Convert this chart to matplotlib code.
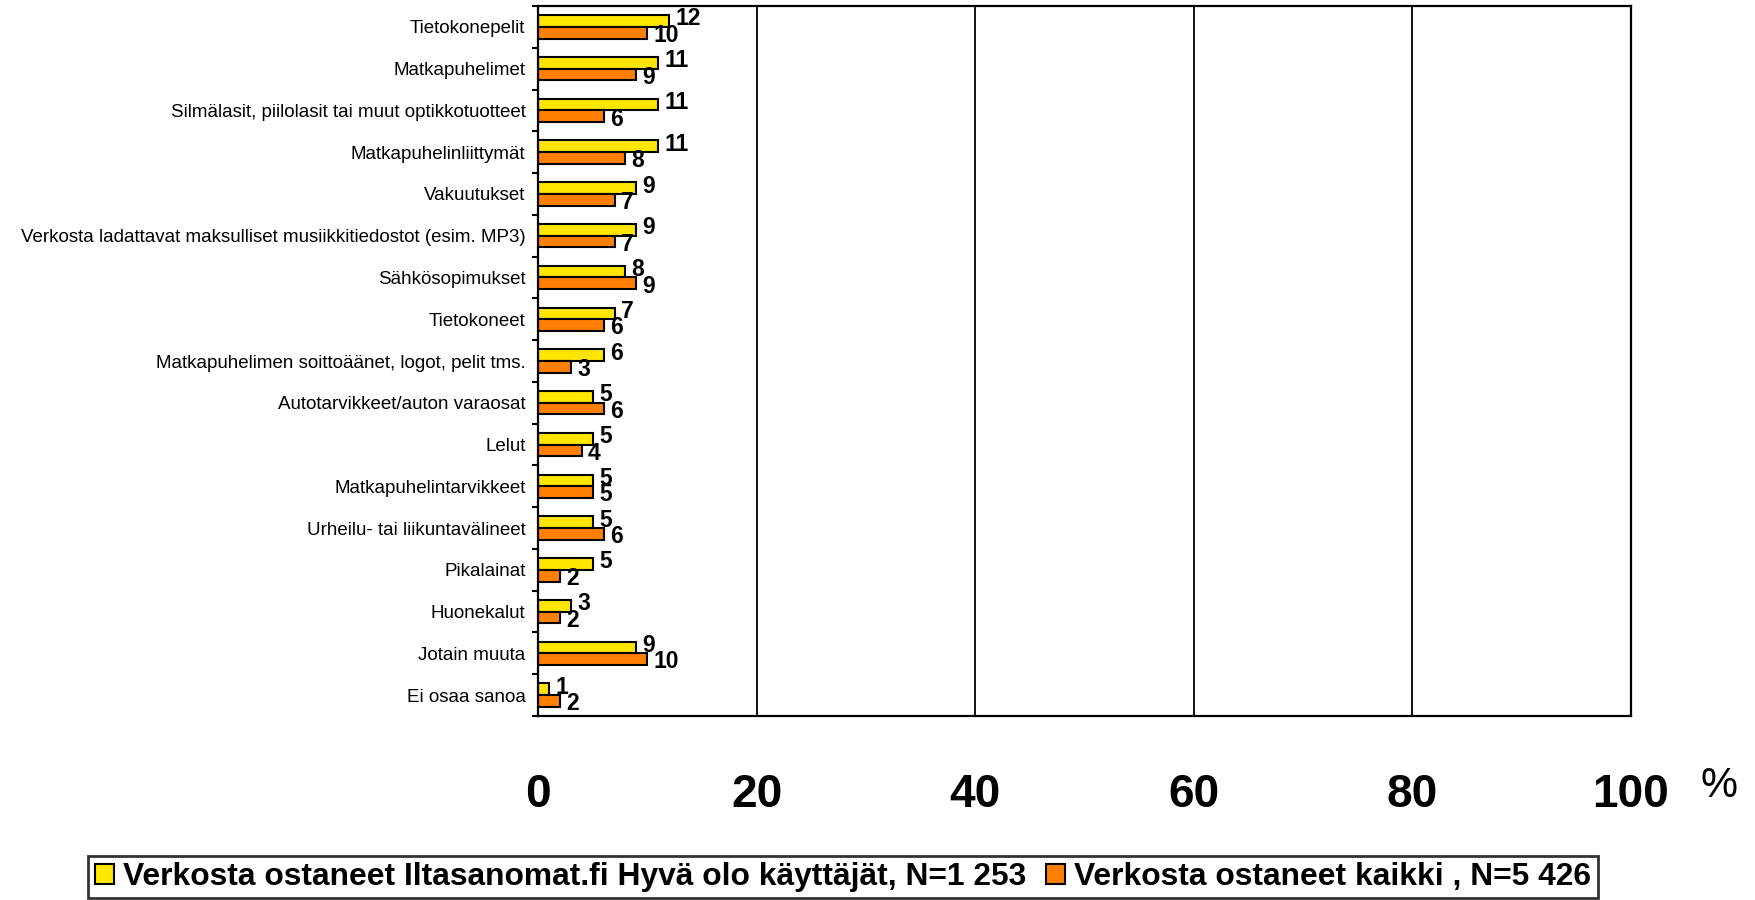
import matplotlib
matplotlib.use("Agg")
import matplotlib.pyplot as plt
import numpy as np
from matplotlib.patches import Patch

categories = [
    "Tietokonepelit",
    "Matkapuhelimet",
    "Silmälasit, piilolasit tai muut optikkotuotteet",
    "Matkapuhelinliittymät",
    "Vakuutukset",
    "Verkosta ladattavat maksulliset musiikkitiedostot (esim. MP3)",
    "Sähkösopimukset",
    "Tietokoneet",
    "Matkapuhelimen soittoäänet, logot, pelit tms.",
    "Autotarvikkeet/auton varaosat",
    "Lelut",
    "Matkapuhelintarvikkeet",
    "Urheilu- tai liikuntavälineet",
    "Pikalainat",
    "Huonekalut",
    "Jotain muuta",
    "Ei osaa sanoa",
]
iltasanomat = [12, 11, 11, 11, 9, 9, 8, 7, 6, 5, 5, 5, 5, 5, 3, 9, 1]
kaikki = [10, 9, 6, 8, 7, 7, 9, 6, 3, 6, 4, 5, 6, 2, 2, 10, 2]
series_names = ["Verkosta ostaneet Iltasanomat.fi Hyvä olo käyttäjät, N=1 253",
                "Verkosta ostaneet kaikki , N=5 426"]
xticks = [0, 20, 40, 60, 80, 100]

wide = ["Liberation Sans", "DejaVu Sans"]

YEL = "#FFE600"
ORA = "#FF8000"

fig = plt.figure(figsize=(17.56, 9.0), dpi=100)
ax = fig.add_axes([538 / 1756, 1 - 716 / 900, (1631 - 538) / 1756, 710 / 900])

y = np.arange(len(categories))
h = 0.28
ax.barh(y - h / 2, iltasanomat, height=h, color=YEL, edgecolor="black", linewidth=1.5)
ax.barh(y + h / 2, kaikki, height=h, color=ORA, edgecolor="black", linewidth=1.5)

for yi, v in zip(y, iltasanomat):
    ax.annotate(str(v), (v, yi - h / 2), xytext=(4.5, 1.5), textcoords="offset points",
                ha="left", va="center", fontsize=16.5, fontweight="bold", family=wide)
for yi, v in zip(y, kaikki):
    ax.annotate(str(v), (v, yi + h / 2), xytext=(4.5, -2), textcoords="offset points",
                ha="left", va="center", fontsize=16.5, fontweight="bold", family=wide)

ax.set_xlim(0, 100)
ax.set_ylim(len(categories) - 0.5, -0.5)
ax.set_xticks(xticks)
ax.set_xticklabels([str(t) for t in xticks], fontsize=33, fontweight="bold", family=wide)
ax.tick_params(axis="x", length=0, pad=41)
ax.set_yticks(y)
ax.set_yticklabels(categories, fontsize=13.5, family=wide)
ax.tick_params(axis="y", which="major", length=0, pad=9)
ax.set_yticks(np.arange(-0.5, len(categories) + 0.5, 1), minor=True)
ax.tick_params(axis="y", which="minor", length=4.5, width=1.5, direction="out")

for t in xticks[1:-1]:
    ax.axvline(t, color="black", linewidth=1.3, zorder=0)
for s in ax.spines.values():
    s.set_linewidth(1.6)
    s.set_color("black")

fig.text(1719 / 1756, 1 - 786 / 900, "%", fontsize=30, ha="center", va="center", family=wide)

handles = [Patch(facecolor=YEL, edgecolor="black", linewidth=1.5),
           Patch(facecolor=ORA, edgecolor="black", linewidth=1.5)]
leg = fig.legend(handles, series_names, loc="center", bbox_to_anchor=(843 / 1756, 1 - 877 / 900),
                 ncol=2, frameon=True, fancybox=False, edgecolor="black",
                 prop={"family": wide, "weight": "bold", "size": 22.9},
                 handlelength=0.6, handleheight=0.6, handletextpad=0.3, columnspacing=0.6,
                 borderpad=0.2, borderaxespad=0)
leg.get_frame().set_linewidth(2)

fig.savefig("out.png", dpi=100)
